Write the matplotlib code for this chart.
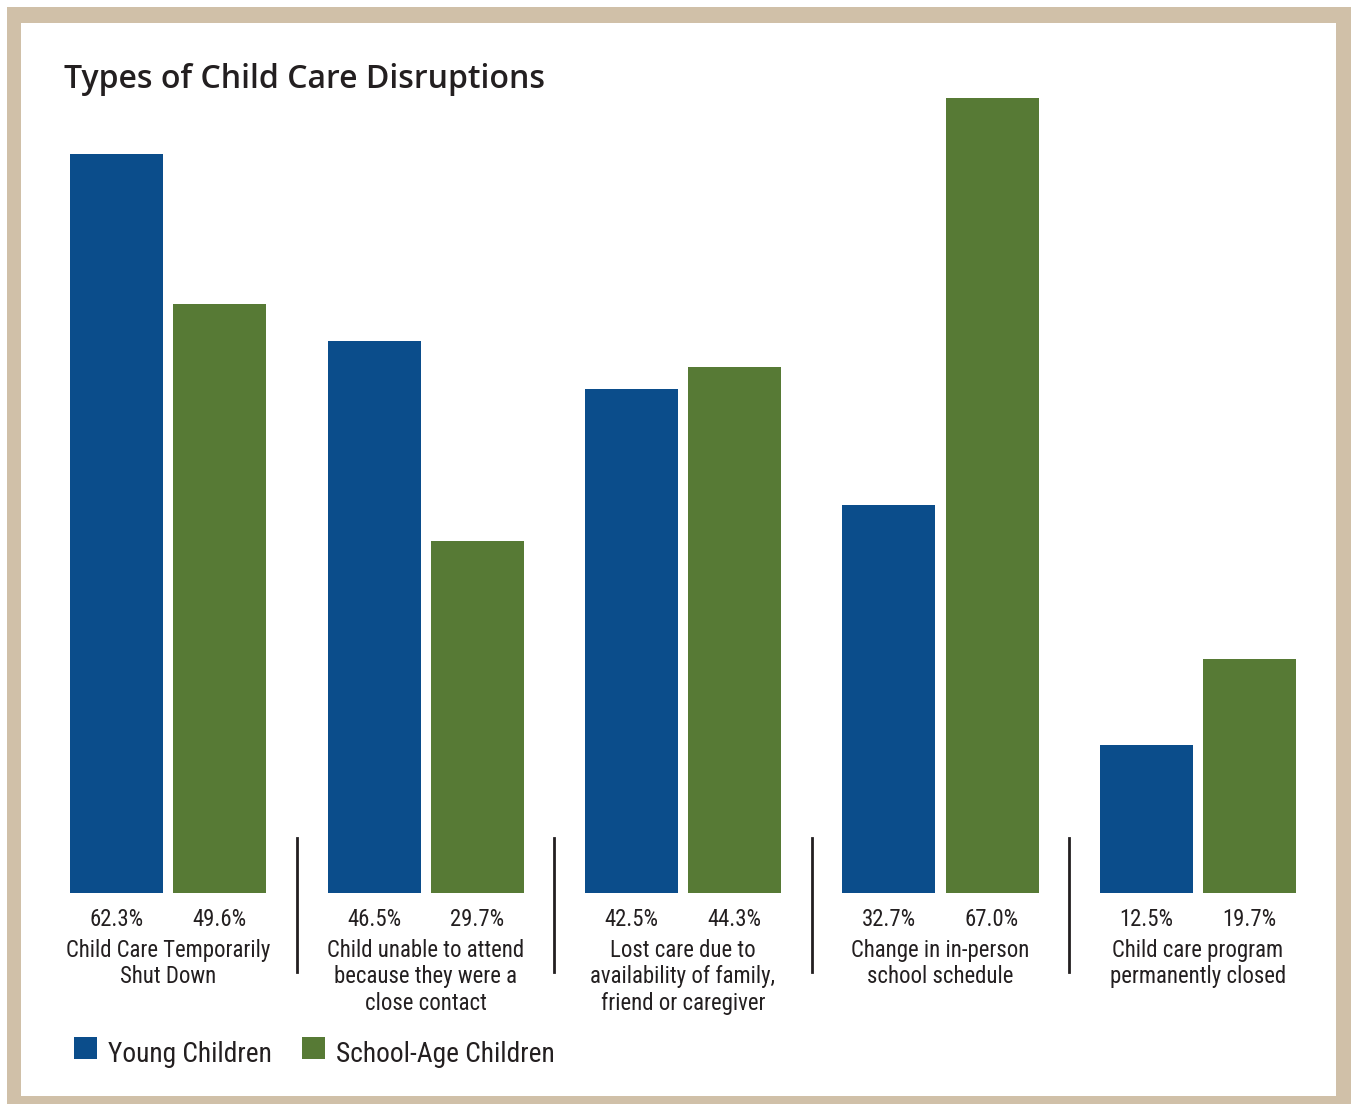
import matplotlib
matplotlib.use("Agg")
import matplotlib.pyplot as plt
from matplotlib.patches import Rectangle
from matplotlib.lines import Line2D
from matplotlib import font_manager
from matplotlib.font_manager import FontProperties

# ---- data ----
categories = [
    "Child Care Temporarily\nShut Down",
    "Child unable to attend\nbecause they were a\nclose contact",
    "Lost care due to\navailability of family,\nfriend or caregiver",
    "Change in in-person\nschool schedule",
    "Child care program\npermanently closed",
]
young_children = [62.3, 46.5, 42.5, 32.7, 12.5]
school_age_children = [49.6, 29.7, 44.3, 67.0, 19.7]
series_names = ["Young Children", "School-Age Children"]
title = "Types of Child Care Disruptions"

# ---- style ----
BLUE = "#0B4D8B"
GREEN = "#577A35"
FRAME = "#D0C0A8"
INK = "#231F20"


def find_narrow_font():
    """Pick a condensed sans-serif face if one is installed."""
    fonts = font_manager.fontManager.ttflist
    prefs = ["Liberation Sans Narrow", "Roboto Condensed", "Open Sans Condensed",
             "Noto Sans Condensed", "DejaVu Sans Condensed", "Noto Sans", "DejaVu Sans",
             "Open Sans", "Roboto"]
    for name in prefs:
        for f in fonts:
            is_narrow = ("Narrow" in f.name or "Condensed" in f.name
                         or f.stretch in ("condensed", "semi-condensed", 600, 500, 400)
                         and f.stretch not in ("normal",))
            fname = f.fname.lower()
            if (f.name == name and f.style == "normal" and f.weight in (400, "normal", "regular")
                    and (is_narrow or "condensed" in fname or "narrow" in fname)
                    and "semicondensed" not in fname and "extracondensed" not in fname):
                return f.fname
    return None


narrow_path = find_narrow_font()


def narrow_props(size):
    if narrow_path:
        return FontProperties(fname=narrow_path, size=size)
    return FontProperties(family="Liberation Sans", size=size * 0.9)


available = {f.name for f in font_manager.fontManager.ttflist}
title_font = "Open Sans" if "Open Sans" in available else "DejaVu Sans"

W, H = 1351, 1104
DPI = 100
fig = plt.figure(figsize=(W / DPI, H / DPI), dpi=DPI)
fig.patch.set_facecolor("white")


def fx(px):
    return px / W


def fy(py):
    return 1 - py / H


# frame around the chart
fig.add_artist(Rectangle((fx(7), fy(1104)), fx(1351 - 7), (1104 - 7) / H,
                         transform=fig.transFigure, facecolor=FRAME, edgecolor="none", zorder=0))
fig.add_artist(Rectangle((fx(21), fy(1096)), fx(1336 - 21), (1096 - 23) / H,
                         transform=fig.transFigure, facecolor="white", edgecolor="none", zorder=0))

# plotting area: baseline at 893 px, top at 98 px
ax_left, ax_right = 39.25, 1326.75
ax_top, ax_bottom = 98, 893
ax = fig.add_axes([fx(ax_left), fy(ax_bottom), fx(ax_right - ax_left), (ax_bottom - ax_top) / H])
ax.set_facecolor("none")
ax.set_xlim(-0.5, len(categories) - 0.5)
ax.set_ylim(0, 67.0)
ax.axis("off")

group_px = (ax_right - ax_left) / len(categories)
bar_w = 93 / group_px
offset = 51.5 / group_px

for i, (yv, sv) in enumerate(zip(young_children, school_age_children)):
    ax.bar(i - offset, yv, width=bar_w, color=BLUE, linewidth=0)
    ax.bar(i + offset, sv, width=bar_w, color=GREEN, linewidth=0)

trans = ax.get_xaxis_transform()
span = ax_bottom - ax_top


def ay(py):
    return (ax_bottom - py) / span


label_size = 16.4
for i, (yv, sv) in enumerate(zip(young_children, school_age_children)):
    ax.text(i - offset, ay(920), f"{yv:.1f}%", transform=trans, ha="center", va="center",
            fontproperties=narrow_props(label_size), color=INK, clip_on=False)
    ax.text(i + offset, ay(920), f"{sv:.1f}%", transform=trans, ha="center", va="center",
            fontproperties=narrow_props(label_size), color=INK, clip_on=False)
    ax.text(i, ay(939), categories[i], transform=trans, ha="center", va="top",
            fontproperties=narrow_props(label_size), color=INK, linespacing=1.19, clip_on=False)

# separators between groups
for i in range(len(categories) - 1):
    ax.add_line(Line2D([i + 0.5, i + 0.5], [ay(838), ay(972)], transform=trans,
                       color=INK, linewidth=2, clip_on=False))

# title
fig.text(fx(64), fy(80), title, ha="left", va="center", fontsize=23,
         family=title_font, weight="semibold", color=INK)

# legend
for x0, name, col in [(74, series_names[0], BLUE), (302, series_names[1], GREEN)]:
    fig.add_artist(Rectangle((fx(x0), fy(1059)), fx(23), 22 / H, transform=fig.transFigure,
                             facecolor=col, edgecolor="none"))
    fig.text(fx(x0 + 34), fy(1054), name, ha="left", va="center",
             fontproperties=narrow_props(19.7), color=INK)

fig.savefig("out.png", dpi=DPI)
